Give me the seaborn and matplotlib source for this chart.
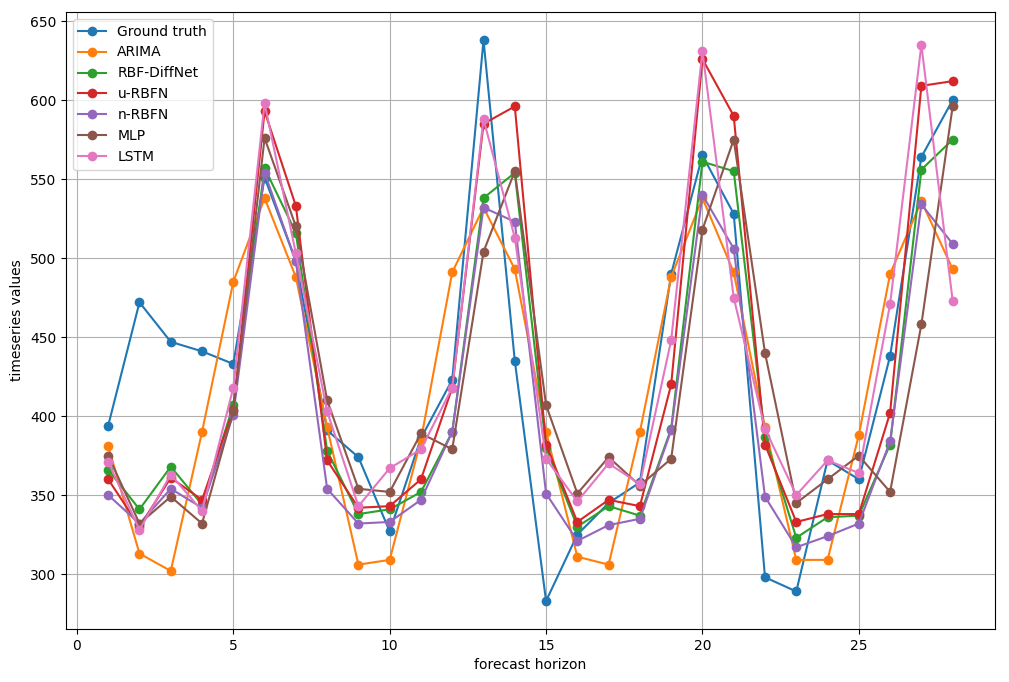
import pandas as pd
import matplotlib
matplotlib.use("Agg")
import matplotlib.pyplot as plt
import seaborn as sns

# forecast horizon steps
horizon = list(range(1, 29))

# values
ground_truth = [394, 472, 447, 441, 433, 551, 498, 391, 374, 327, 386, 423, 638, 435,
                283, 325, 345, 358, 490, 565, 528, 298, 289, 372, 360, 438, 564, 600]
arima = [381, 313, 302, 390, 485, 538, 488, 393, 306, 309, 385, 491, 532, 493,
         390, 311, 306, 390, 488, 538, 491, 393, 309, 309, 388, 490, 536, 493]
rbf_diffnet = [366, 341, 368, 344, 407, 557, 516, 378, 338, 341, 352, 390, 538, 554,
               380, 330, 343, 337, 392, 561, 555, 387, 323, 336, 337, 382, 556, 575]
u_rbfn = [360, 330, 361, 347, 404, 593, 533, 372, 342, 343, 360, 418, 585, 596,
          382, 333, 347, 343, 420, 626, 590, 382, 333, 338, 338, 402, 609, 612]
n_rbfn = [350, 332, 354, 342, 401, 554, 498, 354, 332, 333, 347, 390, 532, 523,
          351, 321, 331, 335, 391, 540, 506, 349, 317, 324, 332, 384, 534, 509]
mlp = [375, 332, 349, 332, 403, 576, 520, 410, 354, 352, 389, 379, 504, 555,
       407, 351, 374, 356, 373, 518, 575, 440, 345, 360, 375, 352, 458, 596]
lstm = [371, 328, 363, 340, 418, 598, 503, 403, 343, 367, 379, 418, 588, 513,
        373, 346, 370, 357, 448, 631, 475, 392, 350, 372, 364, 471, 635, 473]

series = {
    "Ground truth": ground_truth,
    "ARIMA": arima,
    "RBF-DiffNet": rbf_diffnet,
    "u-RBFN": u_rbfn,
    "n-RBFN": n_rbfn,
    "MLP": mlp,
    "LSTM": lstm,
}

# long format for seaborn
rows = []
for name, vals in series.items():
    for h, v in zip(horizon, vals):
        rows.append({"horizon": h, "value": v, "model": name})
df = pd.DataFrame(rows)

fig = plt.figure(figsize=(10.09, 6.82), dpi=100)
ax = fig.add_axes([0.0654, 0.0777, 0.9206, 0.9047])

sns.lineplot(data=df, x="horizon", y="value", hue="model", palette="tab10",
             marker="o", markersize=7, markeredgewidth=0, linewidth=1.5, ax=ax)

ax.grid(True, color="#b0b0b0", linewidth=0.8)
ax.set_axisbelow(True)
ax.set_xlabel("forecast horizon")
ax.set_ylabel("timeseries values")
ax.set_xticks([0, 5, 10, 15, 20, 25])
ax.legend(loc="upper left", title=None)

fig.savefig("out.png", dpi=100)
